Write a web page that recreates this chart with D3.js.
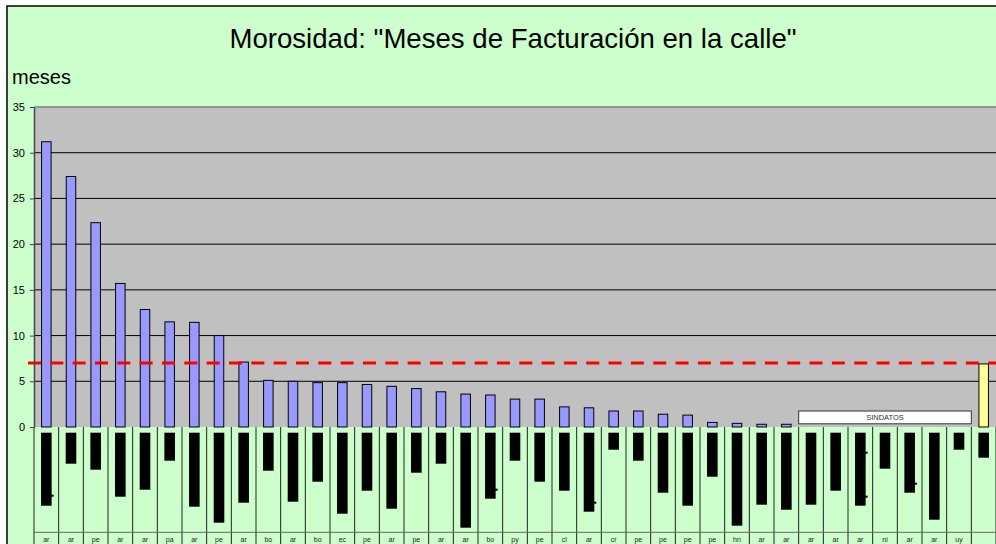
<!DOCTYPE html>
<html>
<head>
<meta charset="utf-8">
<script src="https://cdn.jsdelivr.net/npm/d3@7"></script>
<style>
  body { margin: 0; background: #fff; }
  svg { display: block; font-family: "Liberation Sans", Arial, sans-serif; }
</style>
</head>
<body>
<svg id="chart" width="996" height="544"></svg>
<script>
// country code under each column
const paises = ["ar", "ar", "pe", "ar", "ar", "pa", "ar", "pe", "ar", "bo", "ar", "bo", "ec",
  "pe", "ar", "pe", "ar", "ar", "bo", "py", "pe", "cl", "ar", "cr", "pe", "pe", "pe", "pe",
  "hn", "ar", "ar", "ar", "ar", "ar", "ni", "ar", "ar", "uy", ""];

// months of billing in the street (blue bars); null = sin datos
const meses = [31.2, 27.4, 22.35, 15.7, 12.85, 11.5, 11.45, 10.0, 7.1, 5.1, 5.0, 4.85, 4.85,
  4.65, 4.45, 4.2, 3.85, 3.6, 3.5, 3.05, 3.05, 2.2, 2.1, 1.75, 1.75, 1.4, 1.3, 0.5,
  0.4, 0.3, 0.3, null, null, null, null, null, null, null, null];

// last column: average (yellow)
const promedio = 6.9;
const umbral = 7;

// lower black bars (relative units)
const inferior = [73, 31, 37, 64, 57, 28, 74, 90, 70, 38, 69, 49, 81, 58, 76, 40, 31, 95, 66,
  28, 49, 58, 79, 17, 28, 60, 73, 44, 93, 72, 77, 72, 58, 73, 36, 60, 87, 17, 25];

// little marks on some black bars
const marcaIdx = [0, 18, 22, 33, 33, 35];
const marcaVal = [63, 57, 70, 20, 64, 51];

const yTicks = [0, 5, 10, 15, 20, 25, 30, 35];
// columns without data
const sinDatos = { desde: 31, hasta: 37, lo: 0.35, hi: 1.75, texto: "SINDATOS" };

const svg = d3.select("#chart");
const W = 996, H = 544;
const mLeft = 34, mRight = 996, mTop = 107, zeroY = 427;

// outer frame
svg.append("rect").attr("x", 7).attr("y", 6).attr("width", W + 10).attr("height", H + 10)
  .attr("fill", "#ccffcc").attr("stroke", "#000").attr("stroke-width", 1.5);

const x = d3.scaleBand().domain(d3.range(paises.length)).range([mLeft, mRight]);
const y = d3.scaleLinear().domain([0, 35]).range([zeroY, mTop]);
const yLow = d3.scaleLinear().domain([0, 100]).range([432.7, 532.7]);

// title + axis name
svg.append("text").attr("x", 513).attr("y", 48).attr("text-anchor", "middle")
  .attr("font-size", 27.6).attr("fill", "#000")
  .text("Morosidad: \"Meses de Facturación en la calle\"");
svg.append("text").attr("x", 12).attr("y", 84).attr("font-size", 20).text("meses");

// plot background
svg.append("rect").attr("x", mLeft).attr("y", mTop).attr("width", mRight - mLeft)
  .attr("height", zeroY - mTop).attr("fill", "#c0c0c0");

// gridlines
svg.append("g").selectAll("line").data(yTicks.filter(d => d > 0 && d < 35)).join("line")
  .attr("x1", mLeft).attr("x2", mRight).attr("y1", d => y(d)).attr("y2", d => y(d))
  .attr("stroke", "#000").attr("stroke-width", 1);
svg.append("line").attr("x1", mLeft).attr("x2", mRight).attr("y1", mTop).attr("y2", mTop)
  .attr("stroke", "#808080").attr("stroke-width", 1.5);

// lower panel: column separators
const sep = svg.append("g");
sep.selectAll("line").data(d3.range(paises.length + 1)).join("line")
  .attr("x1", i => mLeft + i * x.step()).attr("x2", i => mLeft + i * x.step())
  .attr("y1", zeroY).attr("y2", H)
  .attr("stroke", "#222").attr("stroke-width", 1);
svg.append("line").attr("x1", mLeft).attr("x2", mRight).attr("y1", 532.3).attr("y2", 532.3)
  .attr("stroke", "#666").attr("stroke-width", 1);

// blue bars
const bw = x.bandwidth() * 0.385;
svg.append("g").selectAll("rect").data(meses.map((v, i) => [i, v]).filter(d => d[1] != null))
  .join("rect")
  .attr("x", d => x(d[0]) + (x.bandwidth() - bw) / 2)
  .attr("y", d => y(d[1]))
  .attr("width", bw).attr("height", d => zeroY - y(d[1]))
  .attr("fill", "#9999ff").attr("stroke", "#000").attr("stroke-width", 1);

// yellow average bar
const last = paises.length - 1;
svg.append("rect").attr("x", x(last) + (x.bandwidth() - bw) / 2).attr("y", y(promedio))
  .attr("width", bw).attr("height", zeroY - y(promedio))
  .attr("fill", "#ffff99").attr("stroke", "#000").attr("stroke-width", 1);

// no-data box
svg.append("rect").attr("x", x(sinDatos.desde)).attr("y", y(sinDatos.hi))
  .attr("width", x(sinDatos.hasta) + x.bandwidth() - x(sinDatos.desde))
  .attr("height", y(sinDatos.lo) - y(sinDatos.hi))
  .attr("fill", "#fff").attr("stroke", "#333").attr("stroke-width", 1);
svg.append("text")
  .attr("x", (x(sinDatos.desde) + x(sinDatos.hasta) + x.bandwidth()) / 2)
  .attr("y", (y(sinDatos.lo) + y(sinDatos.hi)) / 2 + 2.6)
  .attr("text-anchor", "middle").attr("font-size", 7.5).attr("fill", "#333")
  .text(sinDatos.texto);

// threshold line
svg.append("line").attr("x1", 28).attr("x2", mRight).attr("y1", y(umbral)).attr("y2", y(umbral))
  .attr("stroke", "#ff0000").attr("stroke-width", 3).attr("stroke-dasharray", "13,9.33");

// lower black bars
const kb = x.bandwidth() * 0.43;
svg.append("g").selectAll("rect").data(inferior).join("rect")
  .attr("x", (d, i) => x(i) + (x.bandwidth() - kb) / 2)
  .attr("y", yLow(0)).attr("width", kb).attr("height", d => yLow(d) - yLow(0))
  .attr("fill", "#000");
svg.append("g").selectAll("rect").data(marcaIdx).join("rect")
  .attr("x", (d, i) => x(d) + (x.bandwidth() + kb) / 2 - 1)
  .attr("y", (d, i) => yLow(marcaVal[i]) - 1)
  .attr("width", 3).attr("height", 2).attr("fill", "#000");

// category labels
svg.append("g").selectAll("text").data(paises).join("text")
  .attr("x", (d, i) => x(i) + x.bandwidth() / 2).attr("y", 542)
  .attr("text-anchor", "middle").attr("font-size", 7).attr("fill", "#222")
  .text(d => d);

// y axis
const ax = svg.append("g").attr("transform", `translate(${mLeft},0)`)
  .call(d3.axisLeft(y).tickValues(yTicks).tickSize(4).tickPadding(5).tickSizeOuter(0));
ax.select(".domain").attr("stroke", "#444").attr("stroke-width", 1.5);
ax.selectAll(".tick line").attr("stroke", "#444");
ax.selectAll(".tick text").attr("font-size", 11).attr("fill", "#000")
  .attr("font-family", "Liberation Sans, Arial, sans-serif");
</script>
</body>
</html>
